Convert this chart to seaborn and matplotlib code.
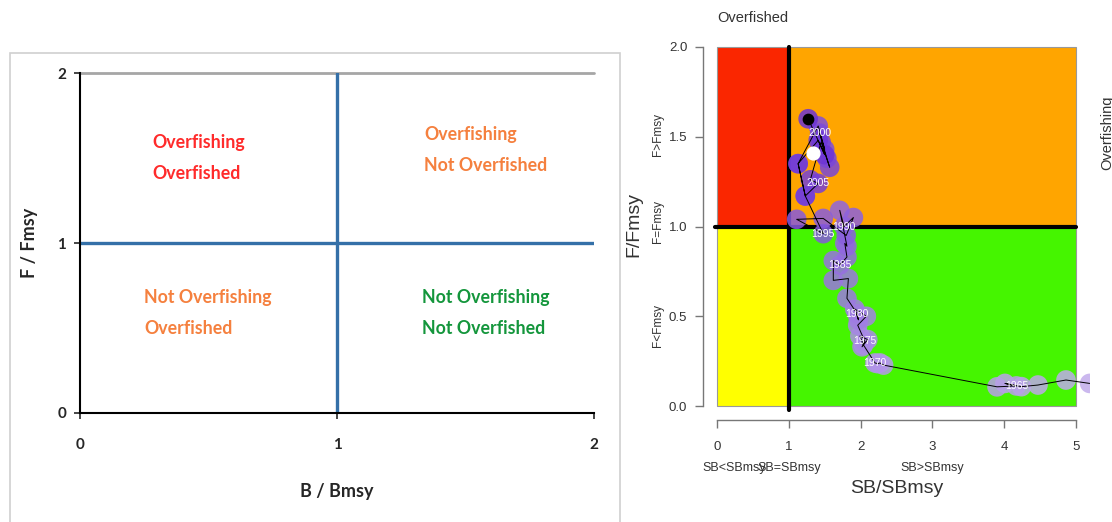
import pandas as pd
import matplotlib.pyplot as plt
import matplotlib.patches as mpatches
import seaborn as sns

# Kobe plot data: stock trajectory (SB/SBmsy, F/Fmsy) by year
years = list(range(1960, 2011))
sb_ratio = [5.19, 4.86, 4.47, 4.24, 4.01, 4.17, 3.90, 2.32, 2.27, 2.24,
            2.20, 2.04, 1.99, 2.10, 2.02, 2.06, 1.96, 2.08, 1.92, 1.97,
            1.95, 1.81, 1.83, 1.62, 1.62, 1.71, 1.81, 1.78, 1.81, 1.71,
            1.77, 1.90, 1.80, 1.48, 1.11, 1.48, 1.23, 1.13, 1.41, 1.50,
            1.43, 1.53, 1.57, 1.45, 1.30, 1.41, 1.23, 1.13, 1.41, 1.50,
            1.27]
f_ratio = [0.126, 0.145, 0.117, 0.108, 0.126, 0.112, 0.107, 0.228, 0.240, 0.236,
           0.240, 0.340, 0.390, 0.370, 0.330, 0.360, 0.450, 0.500, 0.540, 0.480,
           0.515, 0.600, 0.710, 0.700, 0.810, 0.785, 0.830, 0.906, 0.890, 1.090,
           1.000, 1.050, 0.950, 1.045, 1.040, 0.960, 1.170, 1.350, 1.560, 1.430,
           1.520, 1.380, 1.330, 1.470, 1.260, 1.240, 1.170, 1.350, 1.480, 1.400,
           1.600]
label_years = [1965, 1970, 1975, 1980, 1985, 1990, 1995, 2000, 2005]
ref_point = (1.34, 1.41)

# schematic quadrant labels (left panel)
quad_text = ["Overfishing\nOverfished", "Overfishing\nNot Overfished",
             "Not Overfishing\nOverfished", "Not Overfishing\nNot Overfished"]
quad_xy = [(0.28, 1.50), (1.34, 1.55), (0.25, 0.59), (1.33, 0.59)]
quad_col = ["#FF2B2B", "#F5803E", "#F5803E", "#14963C"]

df = pd.DataFrame({'year': years, 'sb': sb_ratio, 'f': f_ratio})

sns.set_style("white")
plt.rcParams['font.family'] = ['Liberation Sans', 'DejaVu Sans']

W, H = 1112, 522
fig = plt.figure(figsize=(W / 100, H / 100), dpi=100)

def px_axes(l, t, r, b):
    return fig.add_axes([l / W, 1 - b / H, (r - l) / W, (b - t) / H])

# ---------------- left panel: schematic ----------------
fig.patches.append(mpatches.Rectangle((10 / W, -0.1), 610 / W, 1.1 - 53 / H,
                                      transform=fig.transFigure, fill=False,
                                      edgecolor='#D0D0D0', lw=1.2))
ax1 = px_axes(80, 73, 594, 413)
ax1.set_xlim(0, 2)
ax1.set_ylim(0, 2)
for s in ['top', 'right']:
    ax1.spines[s].set_visible(False)
for s in ['left', 'bottom']:
    ax1.spines[s].set_color('black')
    ax1.spines[s].set_linewidth(1.5)
ax1.axhline(2, color='#A6A6A6', lw=2, clip_on=False)
ax1.axhline(1, color='#3470A8', lw=2.4)
ax1.axvline(1, color='#3470A8', lw=2.4)
ax1.set_xticks([0, 1, 2])
ax1.set_yticks([0, 1, 2])
bold = dict(family=['Lato', 'DejaVu Sans'], weight='bold')
ax1.set_xticklabels(['0', '1', '2'], fontsize=11, **bold)
ax1.set_yticklabels(['0', '1', '2'], fontsize=11, **bold)
ax1.tick_params(axis='x', length=4, width=1.2, pad=14, direction='out', bottom=True)
ax1.tick_params(axis='y', length=4, width=1.2, pad=6, direction='out', left=True)
ax1.set_xlabel('B / Bmsy', fontsize=13, labelpad=22, **bold)
ax1.set_ylabel('F / Fmsy', fontsize=13, labelpad=14, **bold)
for txt, (x, y), c in zip(quad_text, quad_xy, quad_col):
    ax1.text(x, y, txt, color=c, fontsize=12.8, ha='left', va='center',
             linespacing=2.0, **bold)

# ---------------- right panel: Kobe plot ----------------
ax2 = px_axes(702.6, 32.6, 1090.4, 420.4)
ax2.set_xlim(-0.2, 5.2)
ax2.set_ylim(-0.08, 2.08)
for s in ['top', 'right']:
    ax2.spines[s].set_visible(False)
for s in ['left', 'bottom']:
    ax2.spines[s].set_color('#777777')
    ax2.spines[s].set_linewidth(1)
ax2.spines['left'].set_bounds(0, 2)
ax2.spines['bottom'].set_bounds(0, 5)

quads = [((0, 1), 1, 1, '#FA2600'), ((1, 1), 4, 1, '#FFA500'),
         ((0, 0), 1, 1, '#FFFF00'), ((1, 0), 4, 1, '#45F500')]
for (x0, y0), w, h, c in quads:
    ax2.add_patch(mpatches.Rectangle((x0, y0), w, h, facecolor=c,
                                     edgecolor='#999999', lw=0.8, zorder=0))
ax2.plot([-0.03, 5], [1, 1], color='black', lw=3, zorder=1)
ax2.plot([1, 1], [-0.02, 2.0], color='black', lw=3, zorder=1)

cmap = sns.blend_palette(["#C2ACEC", "#6B33D6"], as_cmap=True)
sns.scatterplot(data=df, x='sb', y='f', hue='year', palette=cmap, s=200,
                alpha=0.85, linewidth=0, legend=False, ax=ax2, zorder=2)
sns.lineplot(data=df, x='sb', y='f', sort=False, estimator=None, color='black',
             lw=0.7, ax=ax2, zorder=3)
ax2.scatter([ref_point[0]], [ref_point[1]], s=85, color='white', zorder=4)
ax2.scatter([sb_ratio[-1]], [f_ratio[-1]], s=55, color='black', zorder=4)
for yr, x, y in zip(years, sb_ratio, f_ratio):
    if yr in label_years:
        ax2.text(x, y, str(yr), color='white', fontsize=7.5, ha='center',
                 va='center', zorder=5)

ax2.set_xticks([0, 1, 2, 3, 4, 5])
ax2.set_yticks([0, 0.5, 1, 1.5, 2])
ax2.set_yticklabels(['0.0', '0.5', '1.0', '1.5', '2.0'])
ax2.tick_params(axis='both', colors='#777777', labelcolor='#333333',
                labelsize=9.5, length=6, width=1, direction='out')
ax2.tick_params(axis='x', pad=9, bottom=True)
ax2.tick_params(axis='y', pad=5, left=True)
ax2.set_xlabel('')
ax2.set_ylabel('')

ax2.text(0, 2.16, 'Overfished', fontsize=10.5, color='#333333', ha='left',
         va='center', clip_on=False)
ax2.text(5.43, 1.52, 'Overfishing', fontsize=10.5, color='#333333', rotation=90,
         ha='center', va='center', clip_on=False)
ax2.text(-1.16, 1.01, 'F/Fmsy', fontsize=14, color='#333333', rotation=90,
         ha='center', va='center', clip_on=False)
for lab, y in [('F>Fmsy', 1.51), ('F=Fmsy', 1.03), ('F<Fmsy', 0.45)]:
    ax2.text(-0.82, y, lab, fontsize=8.5, color='#333333', rotation=90,
             ha='center', va='center', clip_on=False)
for lab, x in [('SB<SBmsy', 0.24), ('SB=SBmsy', 1.0), ('SB>SBmsy', 3.0)]:
    ax2.text(x, -0.345, lab, fontsize=9, color='#333333', ha='center',
             va='center', clip_on=False)
ax2.text(2.5, -0.46, 'SB/SBmsy', fontsize=14, color='#333333', ha='center',
         va='center', clip_on=False)

fig.savefig('out.png', dpi=100)
